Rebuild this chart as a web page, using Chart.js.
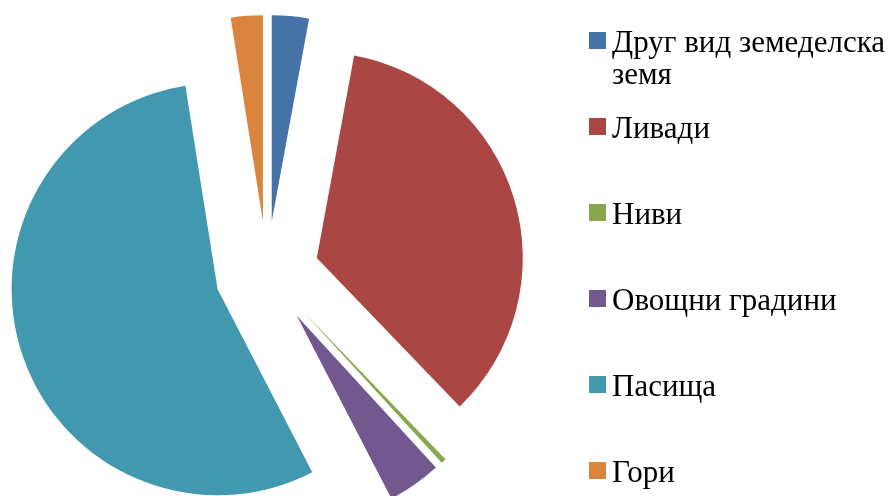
<!DOCTYPE html>
<html lang="bg">
<head>
<meta charset="utf-8">
<script src="https://cdn.jsdelivr.net/npm/chart.js@4"></script>
<style>
  html, body { margin: 0; padding: 0; background: #fff; overflow: hidden; }
  #wrap { position: relative; width: 895px; height: 496px; }
  #pie { position: absolute; left: 0; top: 0; }
  #legend { position: absolute; left: 589px; top: 0; margin: 0; padding: 0; list-style: none;
            font-family: "Liberation Serif", "Times New Roman", serif; font-size: 31px; color: #000; }
  #legend li { position: absolute; left: 0; white-space: nowrap; line-height: 32px; }
  #legend .box { position: absolute; left: 0; top: 6px; width: 17px; height: 17px; }
  #legend .txt { position: absolute; left: 23px; top: 0; }
</style>
</head>
<body>
<div id="wrap">
  <canvas id="pie" width="895" height="496"></canvas>
  <ul id="legend"></ul>
</div>
<script>
// === Данни ===
const labels = ['Друг вид земеделска земя', 'Ливади', 'Ниви', 'Овощни градини', 'Пасища', 'Гори'];
const values = [2.9, 34.9, 0.4, 4.2, 55.1, 2.5];
const colors = ['#4572A7', '#AA4643', '#89A54E', '#71588F', '#4198AF', '#DB843D'];
// редове на легендата (първият етикет е пренесен на два реда)
const legendLines = [['Друг вид земеделска', 'земя'], ['Ливади'], ['Ниви'], ['Овощни градини'], ['Пасища'], ['Гори']];

const R = 206;       // радиус на кръга
const EXPLODE = 52;  // отместване на всеки сектор навън

// "взривена" диаграма: всеки сектор се рисува изместен по ъглополовящата си
const explode = {
  id: 'explode',
  beforeDatasetsDraw(chart) {
    const ctx = chart.ctx;
    chart.getDatasetMeta(0).data.forEach(arc => {
      const mid = (arc.startAngle + arc.endAngle) / 2;
      ctx.save();
      ctx.translate(Math.cos(mid) * EXPLODE, Math.sin(mid) * EXPLODE);
      arc.draw(ctx);
      ctx.restore();
    });
    return false;
  }
};

new Chart(document.getElementById('pie'), {
  type: 'pie',
  data: {
    labels,
    datasets: [{
      data: values,
      backgroundColor: colors,
      borderWidth: 0,
      hoverOffset: 0,
      radius: R
    }]
  },
  options: {
    responsive: false,
    animation: false,
    layout: { padding: { left: 0, top: 50, right: 361, bottom: 0 } },
    plugins: {
      legend: { display: false },
      tooltip: { enabled: false }
    }
  },
  plugins: [explode]
});

// === Легенда ===
const legend = document.getElementById('legend');
legendLines.forEach((lines, i) => {
  const li = document.createElement('li');
  li.style.top = (26 + i * 86) + 'px';
  li.innerHTML = '<span class="box" style="background:' + colors[i] + '"></span>' +
                 '<span class="txt">' + lines.join('<br>') + '</span>';
  legend.appendChild(li);
});
</script>
</body>
</html>
